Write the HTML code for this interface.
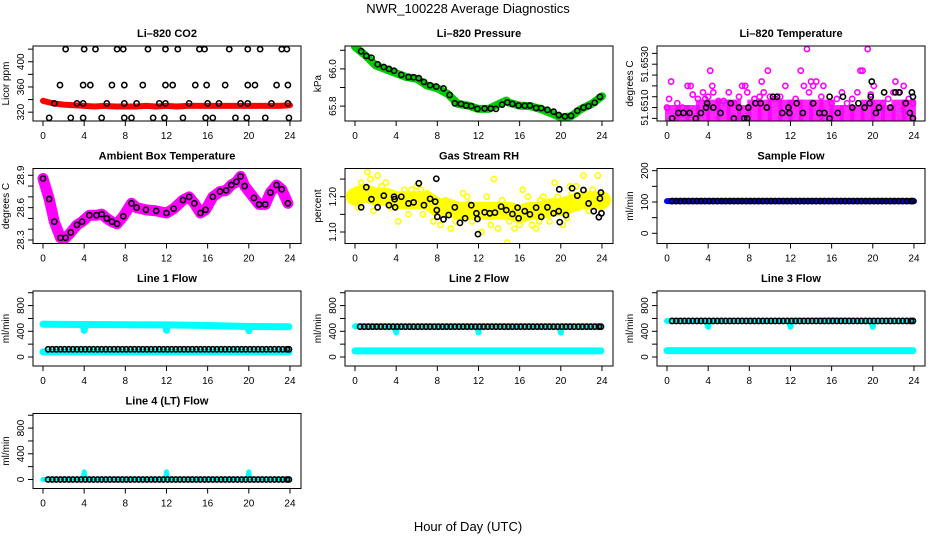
<!DOCTYPE html>
<html><head><meta charset="utf-8">
<style>
html,body{margin:0;padding:0;background:#fff;}
svg{display:block;font-family:"Liberation Sans",Arial,sans-serif;}
</style></head>
<body>
<svg id="chart" width="936" height="540" viewBox="0 0 936 540">
<rect width="936" height="540" fill="#fff"/>
<text x="468" y="13" font-size="13" text-anchor="middle">NWR_100228  Average Diagnostics</text>
<text x="468" y="531" font-size="13" text-anchor="middle">Hour of Day (UTC)</text>
</svg>
<script>
// ---------- data ----------
const xTicks = [0,4,8,12,16,20,24];

const co2RedT = [0,0.5,1,2,3,4,5,6,7,8,9,10,11,12,13,14,15,16,17,18,19,20,21,22,23,24];
const co2RedV = [338,336,334,332,331,330,329,330,329,329,329,330,329,330,329,330,330,330,330,330,330,330,330,330,330,331];
const co2BlkT = [2.2,4.0,5.1,7.2,7.8,10.2,11.9,13.1,15.2,15.7,18.1,19.9,21.1,23.2,23.7,
 1.65,3.9,4.6,6.7,7.9,9.7,11.9,12.6,14.8,15.9,17.7,19.9,20.6,22.7,23.8,
 1.1,3.3,3.9,6.2,7.9,9.1,11.3,11.9,14.2,16.0,17.1,19.2,19.9,22.2,23.8,
 0.6,2.7,3.9,5.7,7.9,8.6,10.7,11.8,13.6,15.8,16.5,18.7,19.8,21.6,23.9];
const co2BlkV = [420,420,420,420,420,420,420,420,420,420,420,420,420,420,420,
 363,363,363,363,363,363,363,363,363,363,363,363,363,363,363,
 334,334,334,334,334,334,334,334,334,334,334,334,334,334,334,
 311,311,311,311,311,311,311,311,311,311,311,311,311,311,311];

const presT = [0,1,2,3,4,5,6,7,8,9,10,11,12,13,14,14.7,15,16,17,18,19,20,21,22,23,24];
const presV = [66.118,66.073,66.019,65.997,65.977,65.956,65.947,65.911,65.896,65.866,65.812,65.803,65.785,65.785,65.812,65.830,65.818,65.803,65.800,65.785,65.763,65.739,65.745,65.785,65.812,65.853];
const presBlkT = [0.6,1.1,1.6,2.2,2.8,3.3,3.8,4.5,5.2,5.7,6.2,6.7,7.3,7.9,8.6,9.2,9.7,10.3,10.8,11.3,11.9,12.6,13.2,13.7,14.3,14.8,15.3,15.9,16.5,17.0,17.6,18.1,18.7,19.3,19.8,20.4,21.0,21.6,22.2,22.7,23.3,23.8];
const presBlkV = [66.095,66.070,66.060,66.025,66.010,66.000,65.990,65.968,65.956,65.955,65.950,65.930,65.912,65.905,65.895,65.860,65.815,65.812,65.803,65.800,65.785,65.787,65.787,65.785,65.808,65.820,65.812,65.803,65.802,65.803,65.790,65.789,65.780,65.770,65.752,65.745,65.748,65.775,65.792,65.800,65.818,65.850];

const tmpBandT = [0,1,2,3,4,5,6,7,8,9,10,11,12,13,14,15,16,17,18,19,20,21,22,23,24];
const tmpBandV = [51.6510,51.6510,51.6510,51.65125,51.65125,51.65125,51.65125,51.6510,51.65125,51.65125,51.65125,51.65125,51.65125,51.65125,51.65125,51.65125,51.6510,51.6510,51.6510,51.65125,51.65125,51.6510,51.65125,51.65125,51.6510];
const tmpPinkT = [0,0.2,0.4,1,1.5,2,2.3,2.5,3,3.5,3.7,4,4.2,4.4,4.5,5,5.5,6,6.5,7,7.3,7.6,7.8,8.5,9,9.2,9.4,9.8,10,10.5,11,11.5,12,12.5,13,13.3,13.6,13.8,14,14.2,14.5,15,15.2,16,16.5,17,17.5,18,18.5,18.8,19,19.5,19.8,20.1,21,21.5,22,22.2,22.5,23,23.5,23.9];
const tmpPinkV = [51.6510,51.6514,51.6522,51.6512,51.6510,51.6520,51.6520,51.6516,51.6514,51.6517,51.6514,51.6515,51.6527,51.6520,51.6517,51.6513,51.6513,51.6517,51.6512,51.6515,51.6520,51.6520,51.6517,51.6514,51.6515,51.6522,51.6517,51.6527,51.6515,51.6514,51.6515,51.6520,51.6512,51.6514,51.6527,51.6520,51.6537,51.6517,51.6522,51.6520,51.6522,51.6515,51.6520,51.6512,51.6514,51.6517,51.6512,51.6514,51.6517,51.6527,51.6527,51.6537,51.6516,51.6520,51.6512,51.6514,51.6517,51.6522,51.6517,51.6520,51.6514,51.6512];
const tmpBlkT = [0.5,1.1,1.6,2.2,2.8,3.3,3.8,3.9,4.5,5.2,6.2,6.5,7.0,7.5,7.8,7.9,8.6,9.1,9.7,10.3,10.7,11.2,11.8,11.9,12.6,13.2,14.2,14.8,15.3,15.8,15.8,16.6,17.1,18.0,18.6,19.2,19.7,19.8,19.9,20.3,20.6,21.1,21.7,22.2,22.6,23.2,23.6,23.8,23.9,23.9];
const tmpBlkV = [51.6505,51.65075,51.65075,51.65075,51.6505,51.65075,51.6510,51.6512,51.6510,51.65075,51.6512,51.6505,51.6510,51.6505,51.6505,51.6510,51.6512,51.6512,51.6510,51.6515,51.6515,51.65075,51.6510,51.65075,51.6512,51.65075,51.6512,51.65075,51.65075,51.6515,51.6505,51.65075,51.6515,51.6510,51.6512,51.6510,51.6512,51.6515,51.6522,51.65075,51.6510,51.6517,51.6510,51.6517,51.6517,51.6512,51.65075,51.6517,51.6505,51.6515];

const ambT = [0,0.6,1.1,1.7,2.2,2.7,3.3,3.8,4.5,5.2,5.7,6.2,6.7,7.2,7.8,8.6,9.1,10,11,12,12.7,13.6,14.2,14.7,15.3,15.8,16.5,17.2,17.8,18.3,18.8,19.2,19.6,20.5,21,21.6,22.1,22.7,23.2,23.8];
const ambV = [28.87,28.68,28.47,28.32,28.32,28.37,28.44,28.47,28.53,28.53,28.54,28.50,28.47,28.45,28.52,28.64,28.60,28.58,28.57,28.55,28.59,28.67,28.70,28.64,28.55,28.58,28.70,28.75,28.76,28.81,28.84,28.89,28.80,28.69,28.63,28.63,28.74,28.81,28.77,28.64];

const rhBandT = [0,1,2,3,4,5,6,7,8,9,10,11,12,13,14,15,16,17,18,19,20,21,22,23,24];
const rhBandV = [1.20,1.21,1.20,1.20,1.19,1.19,1.19,1.19,1.17,1.17,1.16,1.16,1.16,1.16,1.16,1.16,1.15,1.16,1.16,1.17,1.17,1.18,1.19,1.19,1.19];
const rhYelT = [0.6,1.2,2.2,4.2,7.6,9.3,12.3,13.5,14.8,15.5,16.3,19.4,22.2,23.6,8.3,17.6,20.2,0.1,3.0,5.5,10.5,18.3,21.5,0.3,1.8,2.6,3.5,4.8,5.2,6.0,6.6,7.0,8.8,9.8,10.9,11.4,12.8,13.2,14.3,15.0,16.0,16.8,17.2,18.0,18.9,19.7,20.6,21.1,22.7,23.1,23.9,1.5,6.4,11.0,13.9,17.9,20.9];
const rhYelV = [1.24,1.27,1.26,1.13,1.13,1.11,1.10,1.25,1.07,1.11,1.22,1.24,1.26,1.26,1.12,1.11,1.12,1.22,1.24,1.22,1.21,1.20,1.23,1.17,1.16,1.23,1.17,1.22,1.15,1.23,1.15,1.21,1.19,1.13,1.20,1.13,1.20,1.12,1.19,1.13,1.12,1.20,1.12,1.19,1.13,1.20,1.14,1.21,1.16,1.22,1.17,1.25,1.22,1.18,1.11,1.13,1.23];
const rhBlkT = [0.6,1.1,1.6,2.2,2.8,3.3,3.8,3.85,3.9,4.5,5.2,5.7,6.2,6.7,7.3,7.8,7.9,7.95,8.0,8.6,9.1,9.7,10.2,10.7,11.3,11.8,11.9,11.95,12.6,13.1,13.6,14.2,14.7,15.3,15.8,15.9,16.5,17.0,17.6,18.1,18.7,19.3,19.8,19.85,19.9,20.5,21.1,21.6,22.2,22.7,23.2,23.7,23.8,23.9,23.95];
const rhBlkV = [1.170,1.227,1.193,1.170,1.203,1.176,1.200,1.193,1.170,1.200,1.181,1.184,1.238,1.176,1.194,1.186,1.251,1.162,1.143,1.136,1.148,1.170,1.126,1.139,1.176,1.153,1.137,1.094,1.156,1.153,1.155,1.172,1.162,1.151,1.169,1.139,1.159,1.150,1.169,1.143,1.170,1.153,1.159,1.221,1.128,1.148,1.224,1.203,1.219,1.181,1.159,1.142,1.195,1.212,1.153];

const sampBlueT = [0,6,12,18,24];
const sampBlueV = [103,103,103,103,103];
const sampBlkT = [0.5,0.9,1.3,1.7,2.1,2.5,2.9,3.3,3.7,4.1,4.5,4.9,5.3,5.7,6.1,6.5,6.9,7.3,7.7,8.1,8.5,8.9,9.3,9.7,10.1,10.5,10.9,11.3,11.7,12.1,12.5,12.9,13.3,13.7,14.1,14.5,14.9,15.3,15.7,16.1,16.5,16.9,17.3,17.7,18.1,18.5,18.9,19.3,19.7,20.1,20.5,20.9,21.3,21.7,22.1,22.5,22.9,23.3,23.7,23.9];
const sampBlkV = [103,103,103,103,103,103,103,103,103,103,103,103,103,103,103,103,103,103,103,103,103,103,103,103,103,103,103,103,103,103,103,103,103,103,103,103,103,103,103,103,103,103,103,103,103,103,103,103,103,103,103,103,103,103,103,103,103,103,103,103];

const flowBlkT = [0.5,0.9,1.3,1.7,2.1,2.5,2.9,3.3,3.7,4.1,4.5,4.9,5.3,5.7,6.1,6.5,6.9,7.3,7.7,8.1,8.5,8.9,9.3,9.7,10.1,10.5,10.9,11.3,11.7,12.1,12.5,12.9,13.3,13.7,14.1,14.5,14.9,15.3,15.7,16.1,16.5,16.9,17.3,17.7,18.1,18.5,18.9,19.3,19.7,20.1,20.5,20.9,21.3,21.7,22.1,22.5,22.9,23.3,23.7,23.9];
const cyanT = [0,3.9,4.0,4.1,11.9,12.0,12.1,16,19.9,20.0,20.1,23.9];

const l1CyanHiV = [510,505,415,505,500,415,500,490,475,410,475,470];
const l1CyanLoV = [80,80,80,80,80,80,80,80,80,80,80,80];
const l1BlkV = flowBlkT.map(()=>120);

const l2CyanHiV = [478,478,385,478,478,385,478,478,478,380,478,478];
const l2CyanLoV = [95,95,95,95,95,95,95,95,95,95,95,95];
const l2BlkV = flowBlkT.map(()=>472);

const l3CyanHiV = [560,560,470,560,560,470,560,570,560,470,560,560];
const l3CyanLoV = [99,99,99,99,99,99,99,99,99,99,99,99];
const l3BlkV = flowBlkT.map(()=>561);

const l4CyanV = [0,0,118,0,0,118,0,0,0,118,0,0];
const l4BlkV = flowBlkT.map(()=>0);

// ---------- drawing ----------
const svg = document.getElementById('chart');
const NS = 'http://www.w3.org/2000/svg';
function mk(tag, attrs, parent){
  const e = document.createElementNS(NS, tag);
  for (const k in attrs) e.setAttribute(k, attrs[k]);
  (parent||svg).appendChild(e);
  return e;
}

function panel(col,row,name,title,ylab,ymin,ymax,yTicks,yLabels,yLabelStrs){
  const L = 33+312*col, R = 301+312*col;
  const T = 46+122.5*row, B = 121+122.5*row;
  const g = mk('g',{});
  
  
  const xs = h => 43+312*col + h*10.29;
  const ys = v => B - (v-ymin)/(ymax-ymin)*(B-T);
  const t = mk('text',{x:(L+R)/2,y:T-9,'font-size':11,'font-weight':'bold','text-anchor':'middle'},g);
  t.textContent = title;
  
  
  const yl = mk('text',{x:0,y:0,'font-size':10,'text-anchor':'middle',transform:`translate(${L-24},${(T+B)/2}) rotate(-90)`},g);
  yl.textContent = ylab;
  
  
  const plot = mk('g',{},g);
  const ax = mk('g',{stroke:'#000','stroke-width':1,fill:'none'},g);
  mk('rect',{x:L,y:T,width:R-L,height:B-T},ax);
  xTicks.forEach(h=>{
    const x = xs(h);
    mk('line',{x1:x,x2:x,y1:B,y2:B+5},ax);
    const tx = mk('text',{x:x,y:B+18,'font-size':10,'text-anchor':'middle',stroke:'none',fill:'#000'},g);
    tx.textContent = h;
    
    
  });
  yTicks.forEach(v=>{
    const y = ys(v);
    mk('line',{x1:L-5,x2:L,y1:y,y2:y},ax);
  });
  yLabels.forEach((v,i)=>{
    const ty = mk('text',{x:0,y:0,'font-size':10,'text-anchor':'middle',transform:`translate(${L-9},${ys(v)}) rotate(-90)`},g);
    ty.textContent = yLabelStrs[i];
    
    
  });
  const cp = 'clip'+col+row;
  const cl = mk('clipPath',{id:cp},g);
  mk('rect',{x:L,y:T,width:R-L,height:B-T},cl);
  plot.setAttribute('clip-path','url(#'+cp+')');
  return {xs,ys,plot};
}
function band(p,ts,vs,color,w,name){
  const pts = ts.map((t,i)=>p.xs(t).toFixed(1)+','+p.ys(vs[i]).toFixed(1)).join(' ');
  const e = mk('polyline',{points:pts,fill:'none',stroke:color,'stroke-width':w,'stroke-linejoin':'round','stroke-linecap':'round'},p.plot);
  
  
}
function pts(p,ts,vs,color,name,r){
  ts.forEach((t,i)=>{
    const c = mk('circle',{cx:p.xs(t),cy:p.ys(vs[i]),r:r||2.6,fill:'none',stroke:color,'stroke-width':1.6},p.plot);
    
    
  });
}

// CO2
let p = panel(0,0,'co2','Li\u2013820 CO2','Licor ppm',306,425,[320,340,360,380,400,420],[320,360,400],['320','360','400']);
band(p,co2RedT,co2RedV,'#ff0000',6,'co2-red-series');
pts(p,co2BlkT,co2BlkV,'#000','co2-point');

// Pressure
p = panel(1,0,'pressure','Li\u2013820 Pressure','kPa',65.72,66.123,[65.8,65.9,66.0,66.1],[65.8,66.0],['65.8','66.0']);
band(p,presT,presV,'#00cc00',8,'pressure-green-series');
pts(p,presBlkT,presBlkV,'#000','pressure-point');

// Li-820 temperature
p = panel(2,0,'li820-temp','Li\u2013820 Temperature','degrees C',51.65038,51.65384,[51.6505,51.6510,51.6515,51.6520,51.6525,51.6530,51.6535],[51.6510,51.6530],['51.6510','51.6530']);
tmpBandT.forEach((t,i)=>{
  if(i===tmpBandT.length-1) return;
  const x1=p.xs(t)-2, x2=p.xs(tmpBandT[i+1])+2;
  const yTop=p.ys(tmpBandV[i])-2.5, yBot=p.ys(51.6505)+2.5;
  const r = mk('rect',{x:x1,y:yTop,width:x2-x1,height:yBot-yTop,fill:'#ff00ff','fill-opacity':0.85},p.plot);
  
  
});
pts(p,tmpPinkT,tmpPinkV,'#ff00ff','temp-pink-point');
pts(p,tmpBlkT,tmpBlkV,'#000','temp-point');

// Ambient box temperature
p = panel(0,1,'ambient-temp','Ambient Box Temperature','degrees C',28.2675,28.963,[28.3,28.4,28.5,28.6,28.7,28.8,28.9],[28.3,28.6,28.9],['28.3','28.6','28.9']);
band(p,ambT,ambV,'#ff00ff',11,'ambient-pink-series');
pts(p,ambT,ambV,'#000','ambient-point');

// Gas stream RH
p = panel(1,1,'gas-rh','Gas Stream RH','percent',1.0674,1.280,[1.10,1.15,1.20,1.25],[1.10,1.20],['1.10','1.20']);
band(p,rhBandT,rhBandV,'#ffff00',18,'rh-yellow-band');
pts(p,rhYelT,rhYelV,'#ffff00','rh-yellow-point');
pts(p,rhBlkT,rhBlkV,'#000','rh-point');

// Sample flow
p = panel(2,1,'sample-flow','Sample Flow','ml/min',-32.6,207,[0,50,100,150,200],[0,100,200],['0','100','200']);
band(p,sampBlueT,sampBlueV,'#0000ff',6,'sample-blue-series');
pts(p,sampBlkT,sampBlkV,'#000','sample-point');

// Line flows
const fT=[0,200,400,600,800,1000], fL=[0,400,800], fS=['0','400','800'];
p = panel(0,2,'line1-flow','Line 1 Flow','ml/min',-140,1027,fT,fL,fS);
band(p,cyanT,l1CyanHiV,'#00ffff',7,'line1-cyan-high');
band(p,cyanT,l1CyanLoV,'#00ffff',7,'line1-cyan-low');
pts(p,flowBlkT,l1BlkV,'#000','line1-point');

p = panel(1,2,'line2-flow','Line 2 Flow','ml/min',-140,1027,fT,fL,fS);
band(p,cyanT,l2CyanLoV,'#00ffff',7,'line2-cyan-low');
band(p,cyanT,l2CyanHiV,'#00ffff',6,'line2-cyan-high');
pts(p,flowBlkT,l2BlkV,'#000','line2-point');

p = panel(2,2,'line3-flow','Line 3 Flow','ml/min',-140,1027,fT,fL,fS);
band(p,cyanT,l3CyanLoV,'#00ffff',7,'line3-cyan-low');
band(p,cyanT,l3CyanHiV,'#00ffff',6,'line3-cyan-high');
pts(p,flowBlkT,l3BlkV,'#000','line3-point');

p = panel(0,3,'line4-flow','Line 4 (LT) Flow','ml/min',-140,1027,fT,fL,fS);
band(p,cyanT,l4CyanV,'#00ffff',5,'line4-cyan-series');
pts(p,flowBlkT,l4BlkV,'#000','line4-point');
</script>
</body></html>
